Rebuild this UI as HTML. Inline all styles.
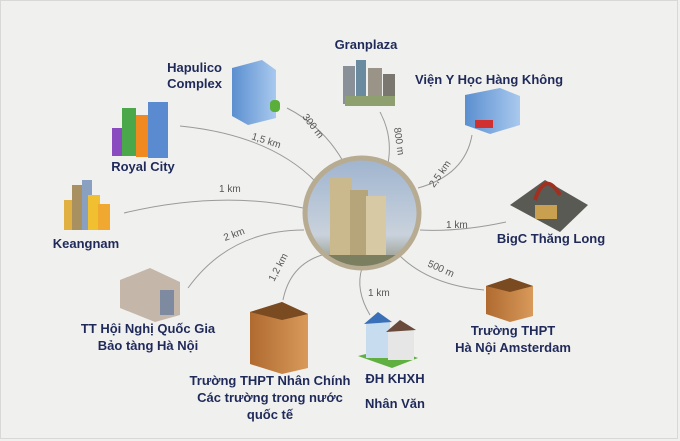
<!DOCTYPE html>
<html><head><meta charset="utf-8"><style>
html,body{margin:0;padding:0;background:#f0f0ee;}
svg{display:block}
.t{font-family:"Liberation Sans",sans-serif;font-weight:bold;font-size:13px;fill:#1f2a5a}
.d{font-family:"Liberation Sans",sans-serif;font-size:10px;fill:#555}
.c{fill:none;stroke:#9a9a9a;stroke-width:1}
</style></head><body>
<svg width="680" height="441" viewBox="0 0 680 441">
<defs>
<linearGradient id="sky" x1="0" y1="0" x2="0" y2="1"><stop offset="0" stop-color="#9fb4cf"/><stop offset="0.7" stop-color="#c9d2dc"/><stop offset="1" stop-color="#8d8f7a"/></linearGradient>
<linearGradient id="bl" x1="0" y1="0" x2="1" y2="0"><stop offset="0" stop-color="#5b8fd0"/><stop offset="1" stop-color="#a9c9ee"/></linearGradient>
<linearGradient id="br" x1="0" y1="0" x2="1" y2="0"><stop offset="0" stop-color="#b06a30"/><stop offset="1" stop-color="#d89a5a"/></linearGradient>
<clipPath id="cc"><ellipse cx="362" cy="213" rx="55" ry="53"/></clipPath>
</defs>
<rect width="680" height="441" fill="#f0f0ee"/>
<rect x="0.5" y="0.5" width="677" height="438" fill="none" stroke="#d8d8d6"/>
<!-- connectors -->
<path class="c" d="M287,108 Q330,130 350,175"/>
<path class="c" d="M380,112 Q395,140 386,172"/>
<path class="c" d="M472,135 Q465,175 418,188"/>
<path class="c" d="M180,126 Q270,135 316,182"/>
<path class="c" d="M124,213 Q220,190 303,208"/>
<path class="c" d="M506,222 Q460,232 420,230"/>
<path class="c" d="M188,288 Q230,230 304,230"/>
<path class="c" d="M283,300 Q290,265 322,255"/>
<path class="c" d="M370,315 Q355,290 362,268"/>
<path class="c" d="M484,290 Q430,285 400,256"/>
<!-- distance labels -->
<text class="d" transform="translate(251,139) rotate(18)">1,5 km</text>
<text class="d" transform="translate(302,117) rotate(52)">300 m</text>
<text class="d" transform="translate(394,128) rotate(82)">800 m</text>
<text class="d" transform="translate(434,188) rotate(-55)">2,5 km</text>
<text class="d" x="219" y="192">1 km</text>
<text class="d" x="446" y="228">1 km</text>
<text class="d" transform="translate(225,241) rotate(-20)">2 km</text>
<text class="d" transform="translate(274,282) rotate(-62)">1,2 km</text>
<text class="d" x="368" y="296">1 km</text>
<text class="d" transform="translate(427,266) rotate(24)">500 m</text>
<!-- center -->
<ellipse cx="362" cy="213" rx="57" ry="55" fill="url(#sky)" stroke="#b7ab92" stroke-width="5"/>
<g clip-path="url(#cc)">
<rect x="330" y="178" width="22" height="80" fill="#c9b98d"/>
<rect x="350" y="190" width="18" height="68" fill="#b6a57a"/>
<rect x="366" y="196" width="20" height="62" fill="#d6c9a4"/>
<rect x="300" y="255" width="130" height="20" fill="#7b7f60"/>
</g>
<!-- icons -->
<g><polygon points="232,68 262,60 276,70 276,118 248,125 232,116" fill="url(#bl)"/><rect x="270" y="100" width="10" height="12" fill="#5aae3a" rx="4"/></g>
<g><rect x="343" y="66" width="12" height="38" fill="#8a9098"/><rect x="356" y="60" width="10" height="45" fill="#6a8aa0"/><rect x="368" y="68" width="14" height="38" fill="#9a9488"/><rect x="383" y="74" width="12" height="30" fill="#7a7670"/><rect x="345" y="96" width="50" height="10" fill="#8fa070"/></g>
<g><polygon points="465,95 500,88 520,96 520,125 490,134 465,125" fill="url(#bl)"/><rect x="475" y="120" width="18" height="8" fill="#d03030"/></g>
<g><rect x="112" y="128" width="20" height="28" fill="#8a4ac0"/><rect x="122" y="108" width="14" height="48" fill="#4aa84a"/><rect x="136" y="115" width="14" height="42" fill="#f08a20"/><rect x="148" y="102" width="20" height="56" fill="#5a8ad0"/></g>
<g><rect x="64" y="200" width="10" height="30" fill="#e0b040"/><rect x="72" y="185" width="12" height="45" fill="#a89060"/><rect x="82" y="180" width="10" height="50" fill="#8aa0c0"/><rect x="88" y="195" width="12" height="35" fill="#f0c030"/><rect x="98" y="204" width="12" height="26" fill="#f0a830"/></g>
<g><polygon points="510,205 545,180 588,205 560,232" fill="#5a5a55"/><path d="M535,200 Q545,170 560,195" fill="none" stroke="#a03020" stroke-width="4"/><rect x="535" y="205" width="22" height="14" fill="#c8a050"/></g>
<g><polygon points="120,280 150,268 180,282 180,315 155,322 120,308" fill="#c4b6a8"/><rect x="160" y="290" width="14" height="25" fill="#7d8aa0"/></g>
<g><polygon points="250,312 282,302 308,314 308,368 282,374 250,364" fill="url(#br)"/><polygon points="250,312 282,302 308,314 282,320" fill="#7a4a20"/></g>
<g><polygon points="358,356 390,348 418,358 392,368" fill="#5fb040"/><rect x="366" y="322" width="24" height="36" fill="#c8dcef"/><rect x="388" y="330" width="26" height="30" fill="#e6e6e6"/><polygon points="364,324 378,312 392,322" fill="#3a70b8"/><polygon points="386,332 400,320 416,330" fill="#6a4a3a"/></g>
<g><polygon points="486,286 510,278 533,286 533,316 510,322 486,314" fill="url(#br)"/><polygon points="486,286 510,278 533,286 510,292" fill="#7a4a20"/></g>
<!-- labels -->
<text class="t" x="222" y="72" text-anchor="end">Hapulico</text>
<text class="t" x="222" y="88" text-anchor="end">Complex</text>
<text class="t" x="366" y="49" text-anchor="middle">Granplaza</text>
<text class="t" x="415" y="84">Viện Y Học Hàng Không</text>
<text class="t" x="143" y="171" text-anchor="middle">Royal City</text>
<text class="t" x="86" y="248" text-anchor="middle">Keangnam</text>
<text class="t" x="551" y="243" text-anchor="middle">BigC Thăng Long</text>
<text class="t" x="148" y="333" text-anchor="middle">TT Hội Nghị Quốc Gia</text>
<text class="t" x="148" y="350" text-anchor="middle">Bảo tàng Hà Nội</text>
<text class="t" x="270" y="385" text-anchor="middle">Trường THPT Nhân Chính</text>
<text class="t" x="270" y="402" text-anchor="middle">Các trường trong nước</text>
<text class="t" x="270" y="419" text-anchor="middle">quốc tế</text>
<text class="t" x="395" y="383" text-anchor="middle">ĐH KHXH</text>
<text class="t" x="395" y="408" text-anchor="middle">Nhân Văn</text>
<text class="t" x="513" y="335" text-anchor="middle">Trường THPT</text>
<text class="t" x="513" y="352" text-anchor="middle">Hà Nội Amsterdam</text>
</svg>
</body></html>
